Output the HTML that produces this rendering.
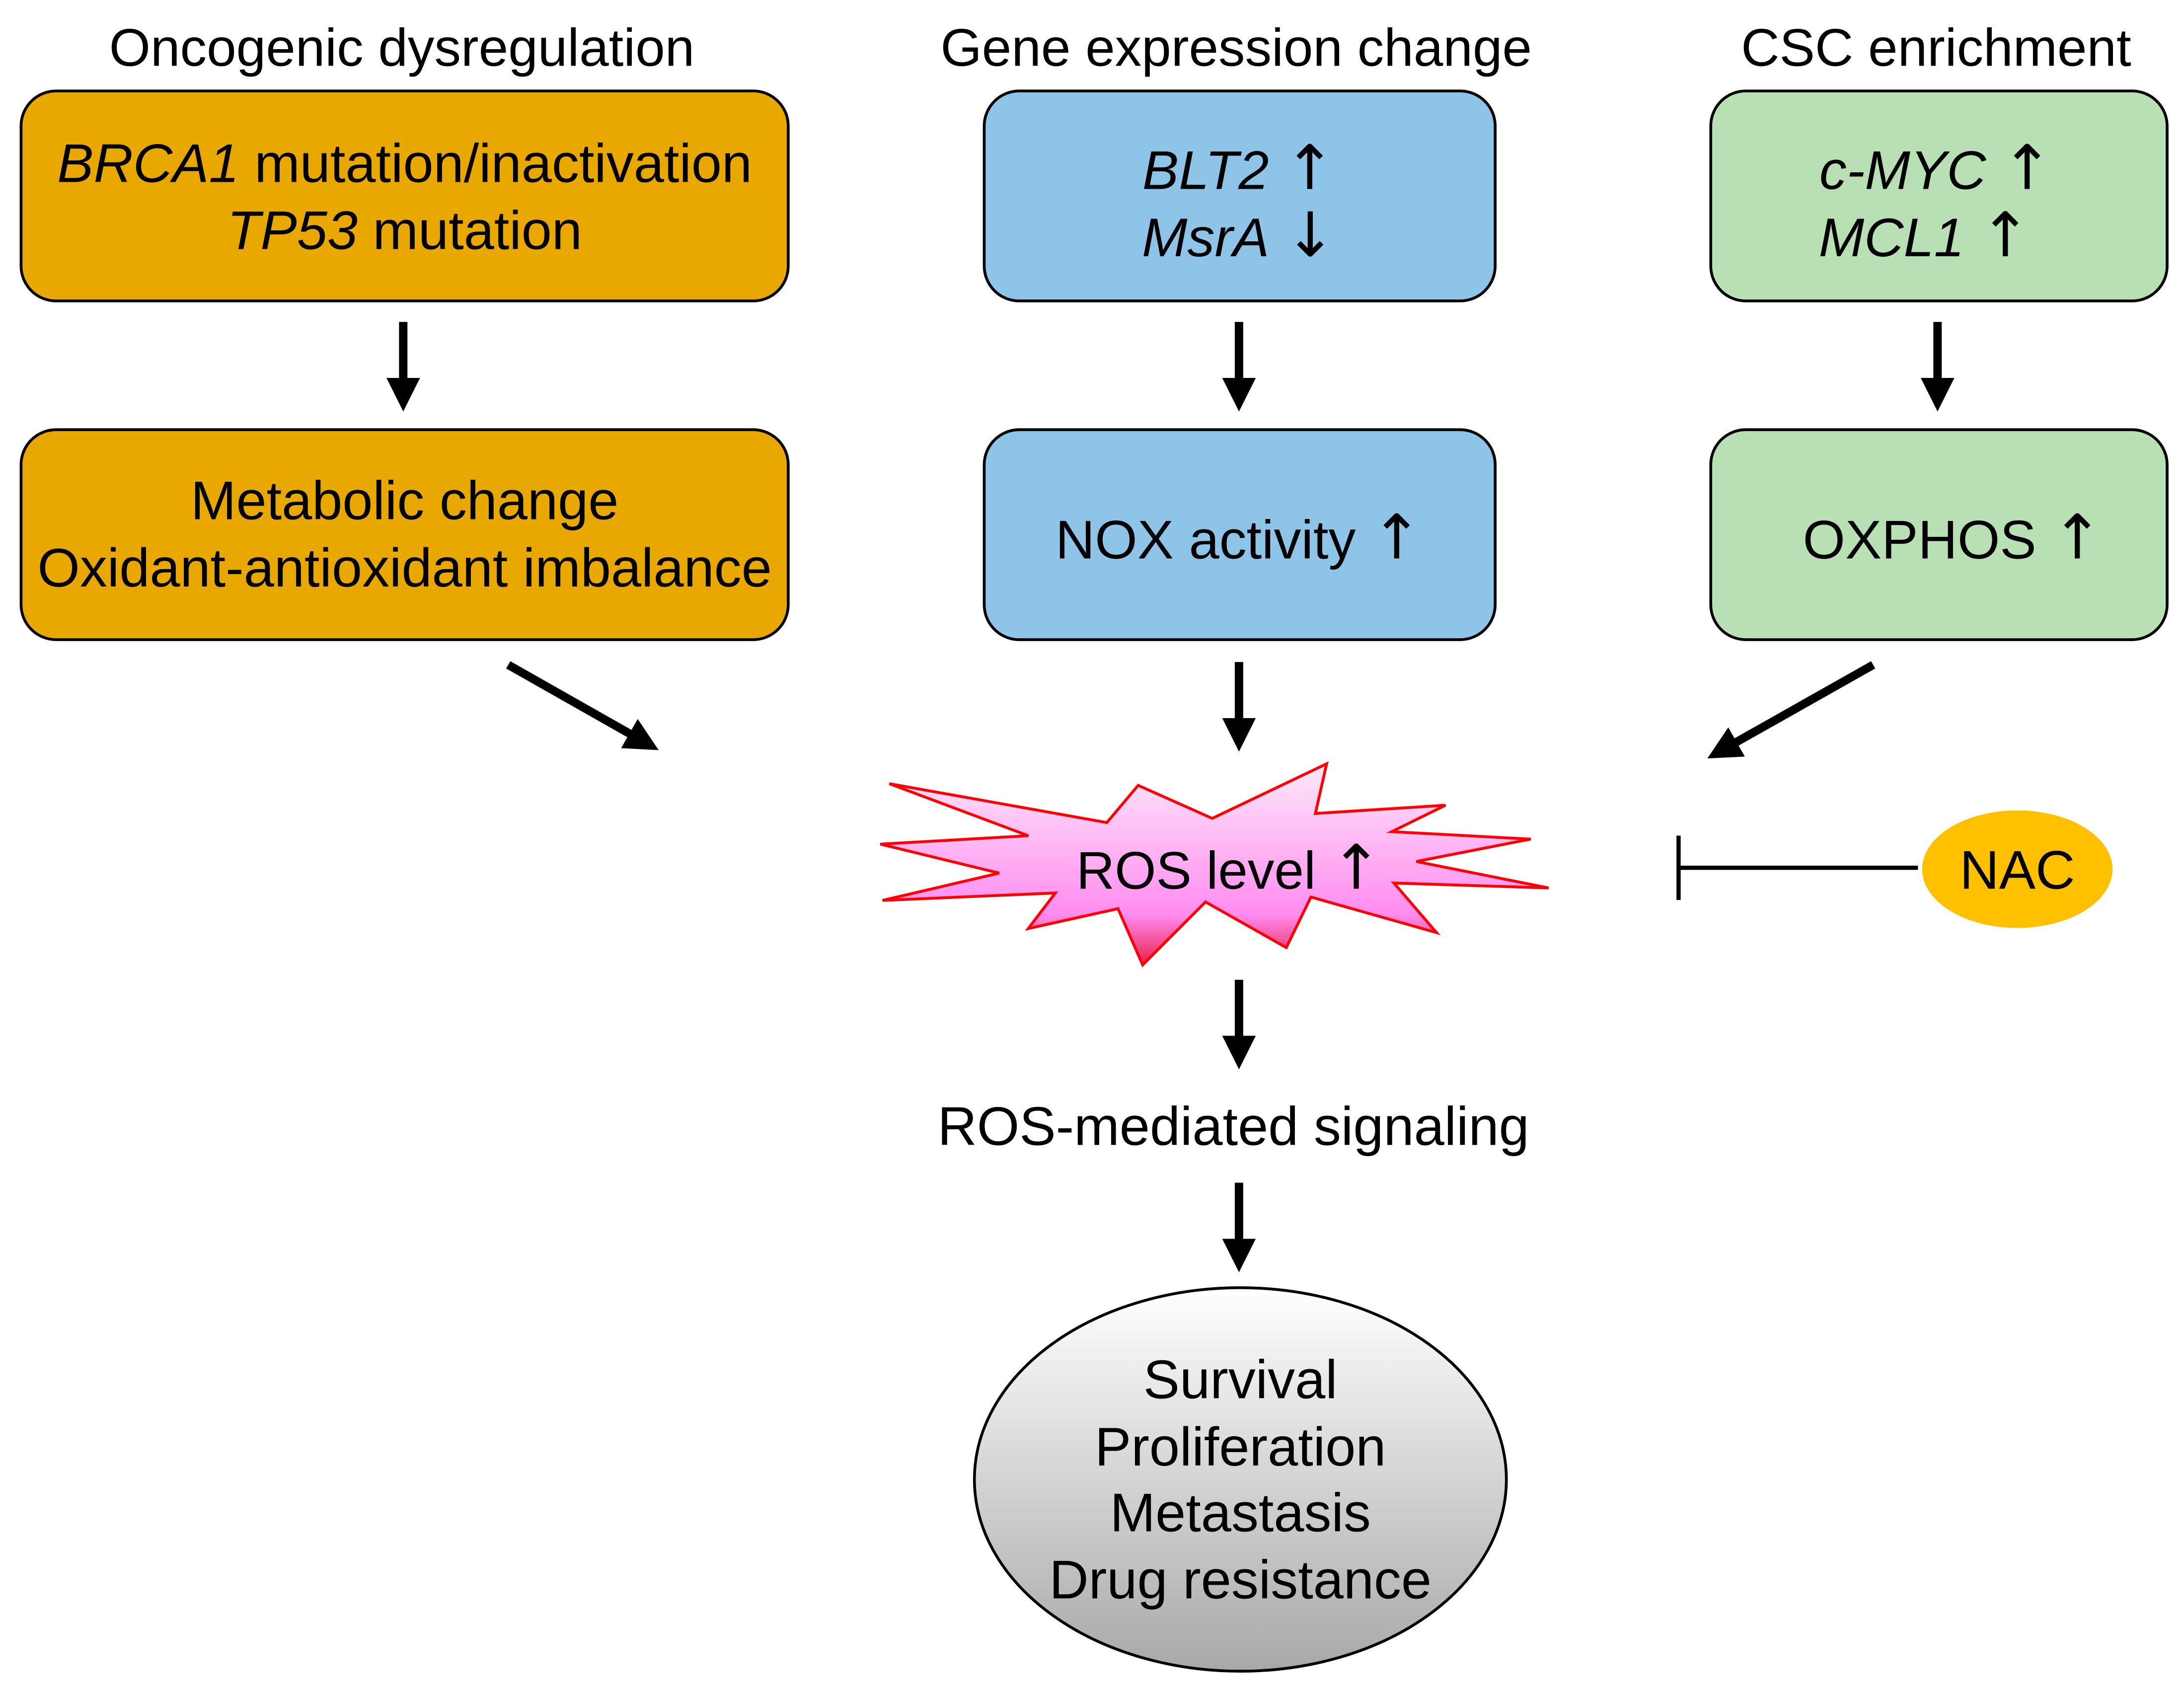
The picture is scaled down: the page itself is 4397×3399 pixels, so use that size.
<!DOCTYPE html>
<html><head><meta charset="utf-8"><style>html,body{margin:0;padding:0;background:#fff}svg{display:block}</style></head><body>
<svg xmlns="http://www.w3.org/2000/svg" width="4397" height="3399" viewBox="0 0 1560 1206" font-family="'Liberation Sans', sans-serif">
<defs>
<linearGradient id="pk" x1="0" y1="0" x2="0" y2="1"><stop offset="0" stop-color="#fde8f8"/><stop offset="0.75" stop-color="#ff8cf0"/><stop offset="1" stop-color="#e8204a"/></linearGradient>
<linearGradient id="gr" x1="0" y1="0" x2="0" y2="1"><stop offset="0" stop-color="#ffffff"/><stop offset="1" stop-color="#a8a8a8"/></linearGradient>
<marker id="ah" markerWidth="4" markerHeight="4" refX="2" refY="2" orient="auto" markerUnits="strokeWidth"><path d="M0,0 L4,2 L0,4 z" fill="#000"/></marker>
</defs>
<g font-size="38" text-anchor="middle" fill="#000">
<text x="287" y="47">Oncogenic dysregulation</text>
<text x="883" y="47">Gene expression change</text>
<text x="1383" y="47">CSC enrichment</text>
</g>
<g stroke="#000" stroke-width="2">
<rect x="15" y="65" width="548" height="150" rx="25" fill="#e8a800"/>
<rect x="15" y="307" width="548" height="150" rx="25" fill="#e8a800"/>
<rect x="703" y="65" width="365" height="150" rx="25" fill="#8dc4e8"/>
<rect x="703" y="307" width="365" height="150" rx="25" fill="#8dc4e8"/>
<rect x="1222" y="65" width="326" height="150" rx="25" fill="#b8e0b4"/>
<rect x="1222" y="307" width="326" height="150" rx="25" fill="#b8e0b4"/>
</g>
<g font-size="39" text-anchor="middle">
<text x="289" y="130"><tspan font-style="italic">BRCA1</tspan> mutation/inactivation</text>
<text x="289" y="178"><tspan font-style="italic">TP53</tspan> mutation</text>
<text x="289" y="371">Metabolic change</text>
<text x="289" y="419">Oxidant-antioxidant imbalance</text>
<text x="885" y="135"><tspan font-style="italic">BLT2</tspan> <tspan font-family="DejaVu Sans" font-size="44">↑</tspan></text>
<text x="885" y="183"><tspan font-style="italic">MsrA</tspan> <tspan font-family="DejaVu Sans" font-size="44">↓</tspan></text>
<text x="885" y="399">NOX activity <tspan font-family="DejaVu Sans" font-size="44">↑</tspan></text>
<text x="1383" y="135"><tspan font-style="italic">c-MYC</tspan> <tspan font-family="DejaVu Sans" font-size="44">↑</tspan></text>
<text x="1375" y="183"><tspan font-style="italic">MCL1</tspan> <tspan font-family="DejaVu Sans" font-size="44">↑</tspan></text>
<text x="1395" y="399">OXPHOS <tspan font-family="DejaVu Sans" font-size="44">↑</tspan></text>
</g>
<g stroke="#000" stroke-width="6" marker-end="url(#ah)">
<line x1="288" y1="230" x2="288" y2="282"/>
<line x1="885" y1="230" x2="885" y2="282"/>
<line x1="1384" y1="230" x2="1384" y2="282"/>
<line x1="885" y1="473" x2="885" y2="525"/>
<line x1="363" y1="475" x2="460" y2="530"/>
<line x1="1338" y1="475" x2="1230" y2="536"/>
<line x1="885" y1="700" x2="885" y2="752"/>
<line x1="885" y1="845" x2="885" y2="897"/>
</g>
<polygon fill="url(#pk)" stroke="#f00" stroke-width="2" points="635.2,559.9 734.5,597.1 628.8,603.1 713.7,623.8 630.4,643.3 753.8,638 734.5,663.4 798.6,649.2 816.2,689.4 861.1,644.4 918.8,677 936.4,640.9 1026.1,666.3 995.7,630.9 1106.2,634.4 1011.7,615.5 1093.4,599.5 994.1,594.2 1032.5,575.3 939.6,581.2 947.6,545.7 865.9,584.7 813,561.1 790.6,587.7"/>
<text x="878" y="635" font-size="38" text-anchor="middle">ROS level <tspan font-family="DejaVu Sans" font-size="44">↑</tspan></text>
<g stroke="#000" stroke-width="3"><line x1="1370" y1="620" x2="1199" y2="620"/><line x1="1199" y1="597" x2="1199" y2="643"/></g>
<ellipse cx="1441" cy="621" rx="68" ry="42" fill="#ffc000"/>
<text x="1441" y="635" font-size="39" text-anchor="middle">NAC</text>
<text x="881" y="818" font-size="39" text-anchor="middle">ROS-mediated signaling</text>
<ellipse cx="886" cy="1057" rx="190" ry="137" fill="url(#gr)" stroke="#000" stroke-width="2"/>
<g font-size="39" text-anchor="middle">
<text x="886" y="999">Survival</text>
<text x="886" y="1047">Proliferation</text>
<text x="886" y="1094">Metastasis</text>
<text x="886" y="1142">Drug resistance</text>
</g>
</svg>
</body></html>
